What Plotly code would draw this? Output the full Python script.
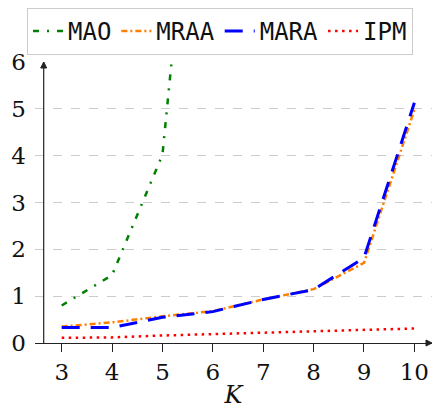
import plotly.graph_objects as go

K = [3, 4, 5, 6, 7, 8, 9, 10]
mao = [0.80, 1.45, 4.02, 15.0]
mraa = [0.35, 0.44, 0.57, 0.68, 0.93, 1.15, 1.71, 4.98]
mara = [0.33, 0.33, 0.55, 0.67, 0.93, 1.14, 1.82, 5.13]
ipm = [0.11, 0.12, 0.16, 0.19, 0.23, 0.26, 0.28, 0.31]
yticks = [0, 1, 2, 3, 4, 5, 6]

SERIF = "DejaVu Serif"
MONO = "DejaVu Sans Mono"

# page body has an 8px default margin; the figure is sized to compensate
W, H = 437, 410
L, R, T, B = 27, 13, 54.3, 74.7

fig = go.Figure()
fig.add_trace(go.Scatter(x=K[:len(mao)], y=mao, name="MAO", mode="lines",
                         line=dict(color="#008000", width=2.5, dash="6px,8px,2px,8px")))
fig.add_trace(go.Scatter(x=K, y=mraa, name="MRAA", mode="lines",
                         line=dict(color="#ff8000", width=2.5, dash="6px,3px,2px,3px")))
fig.add_trace(go.Scatter(x=K, y=mara, name="MARA", mode="lines",
                         line=dict(color="#0000ff", width=3, dash="18px,11px")))
fig.add_trace(go.Scatter(x=K, y=ipm, name="IPM", mode="lines",
                         line=dict(color="#ff0000", width=2.5, dash="2.5px,4.5px")))

ypos = 8.7 / (W - L - R)
fig.add_shape(type="line", xref="paper", yref="paper", x0=ypos, x1=ypos, y0=0, y1=1,
              line=dict(color="#222", width=1.2))
fig.add_shape(type="path", xref="paper", yref="paper", xsizemode="pixel", ysizemode="pixel",
              xanchor=1, yanchor=0, path="M -6 -3 L 0 0 L -6 3 Z",
              fillcolor="#222", line=dict(color="#222", width=1))
fig.add_shape(type="path", xref="paper", yref="paper", xsizemode="pixel", ysizemode="pixel",
              xanchor=ypos, yanchor=1, path="M -3 -6 L 0 0 L 3 -6 Z",
              fillcolor="#222", line=dict(color="#222", width=1))

fig.update_layout(
    width=W, height=H,
    margin=dict(l=L, r=R, t=T, b=B, autoexpand=False),
    plot_bgcolor="white", paper_bgcolor="white",
    font=dict(family=SERIF, size=23, color="#111"),
    showlegend=True,
    legend=dict(orientation="h", xref="container", yref="container",
                x=19 / W, xanchor="left", y=1, yanchor="top",
                font=dict(family=MONO, size=24, color="#111"),
                bordercolor="#cccccc", borderwidth=1, bgcolor="white",
                itemwidth=30, tracegroupgap=0),
    xaxis=dict(range=[2.47, 10.35], tickvals=K, ticks="outside", ticklen=8,
               tickcolor="#222", showline=True, linecolor="#222", linewidth=1.2,
               showgrid=False, zeroline=False, automargin=False,
               tickfont=dict(family=SERIF, size=23),
               title=dict(text="<i>K</i>", standoff=2, font=dict(family=SERIF, size=24))),
    yaxis=dict(range=[0, 6], tickvals=yticks, ticks="", showline=False,
               showgrid=True, gridcolor="#cccccc", griddash="dash", gridwidth=1.2,
               tickfont=dict(family=SERIF, size=23),
               zeroline=False, ticklabelstandoff=8, automargin=False),
)
fig.write_html("out.html")
